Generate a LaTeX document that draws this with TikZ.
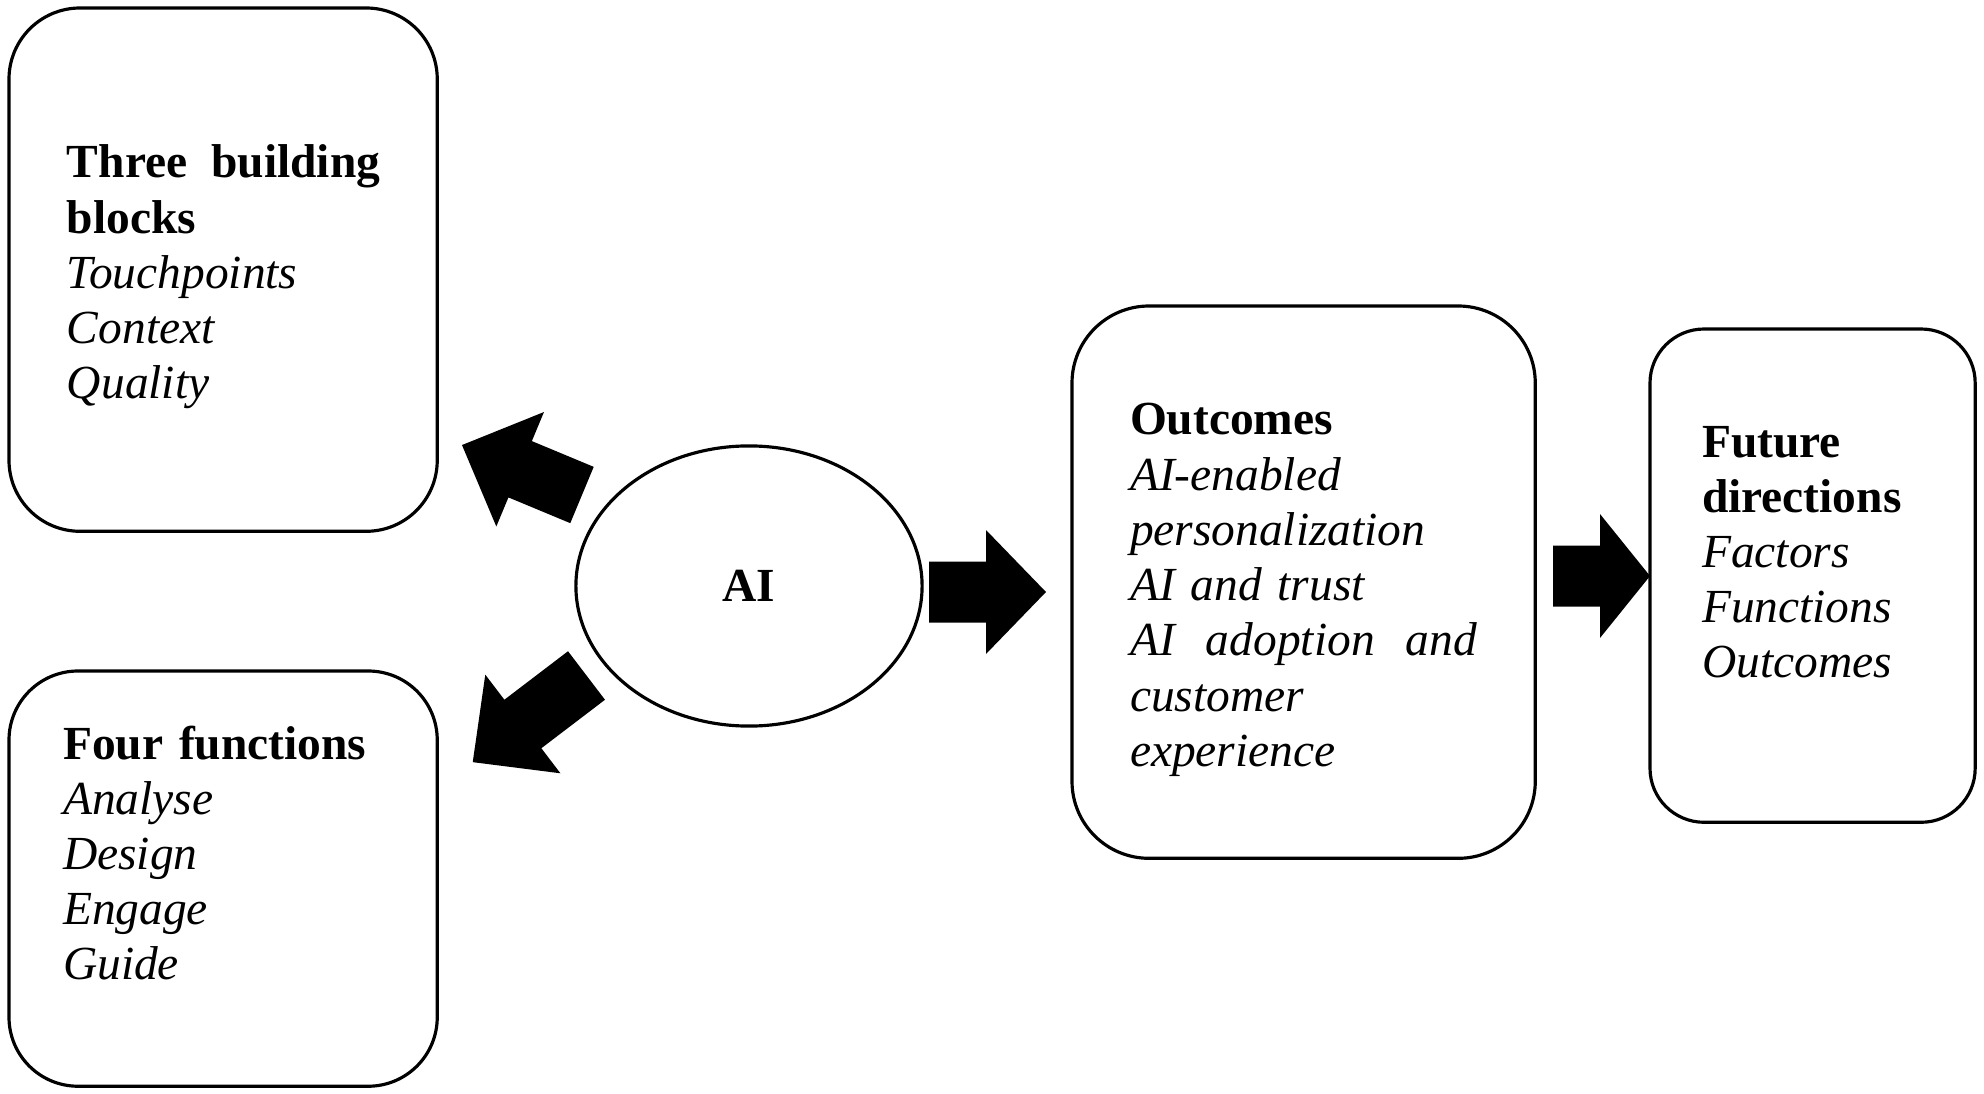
\documentclass[tikz,border=0pt]{standalone}
\usepackage{fontspec}
\setmainfont{Liberation Serif}
\usetikzlibrary{shapes.geometric}
\newcommand\blkarrow[4]{% tail point, angle, shaft length, total length
  \fill[shift={#1}, rotate=#2] (0,-30.5) -- (#3,-30.5) -- (#3,-62) -- (#4,0)
     -- (#3,62) -- (#3,30.5) -- (0,30.5) -- cycle;}
\begin{document}
\begin{tikzpicture}[x=0.01cm,y=-0.01cm,
  box/.style={draw, line width=0.9pt, inner sep=0pt, outer sep=0pt, anchor=north west},
  txt/.style={inner sep=0pt, outer sep=0pt, anchor=base west, align=left,
    font=\fontsize{13.5pt}{15.7pt}\selectfont},
  aiell/.style={draw, ellipse, line width=0.9pt, inner sep=0pt,
    minimum width=3.46cm, minimum height=2.80cm,
    font=\fontsize{13.5pt}{15.7pt}\selectfont\bfseries}]
\useasboundingbox (0,0) rectangle (1984,1094);
% boxes
\node[box, rounded corners=0.71cm, minimum width=4.28cm, minimum height=5.23cm] (b1) at (9,8) {};
\node[box, rounded corners=0.69cm, minimum width=4.28cm, minimum height=4.15cm] (b2) at (9,671) {};
\node[box, rounded corners=0.77cm, minimum width=4.63cm, minimum height=5.52cm] (b3) at (1072,306) {};
\node[box, rounded corners=0.54cm, minimum width=3.25cm, minimum height=4.93cm] (b4) at (1650,329) {};
\node[aiell] (ai) at (749,586) {AI};
% texts
\node[txt, text width=3.13cm] (t1) at (67,178) {\textbf{Three\hfill building}\\\textbf{blocks}\\\textit{Touchpoints}\\\textit{Context}\\\textit{Quality}};
\node[txt, text width=3.5cm] (t2) at (63,759) {\textbf{Four functions}\\\textit{Analyse}\\\textit{Design}\\\textit{Engage}\\\textit{Guide}};
\node[txt, text width=3.47cm] (t3) at (1130,435) {\textbf{Outcomes}\\\textit{AI-enabled}\\\textit{personalization}\\\textit{AI and trust}\\\textit{AI\hfill adoption\hfill and}\\\textit{customer}\\\textit{experience}};
\node[txt, text width=2.6cm] (t4) at (1702,457) {\textbf{Future}\\\textbf{directions}\\\textit{Factors}\\\textit{Functions}\\\textit{Outcomes}};
% block arrows
\blkarrow{(929,592)}{0}{57}{117}
\blkarrow{(1553,576)}{0}{47}{97}
\blkarrow{(582,495)}{157.4}{67}{130}
\blkarrow{(586.5,675.5)}{217.3}{80}{143}
\end{tikzpicture}
\end{document}
